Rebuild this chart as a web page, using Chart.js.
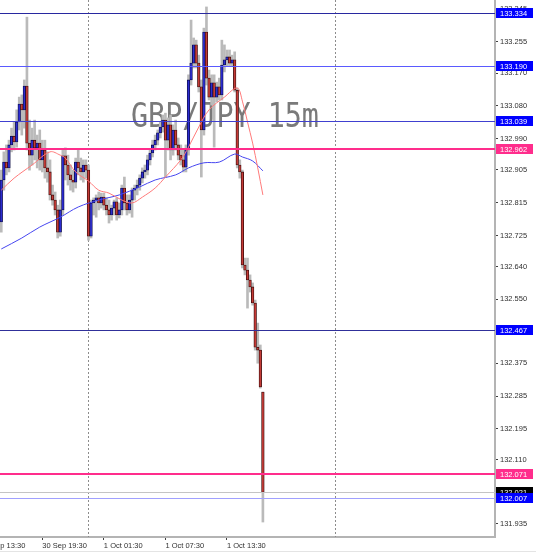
<!DOCTYPE html>
<html>
<head>
<meta charset="utf-8">
<script src="https://cdn.jsdelivr.net/npm/chart.js@4.4.1/dist/chart.umd.min.js"></script>
<style>
  html, body { margin: 0; padding: 0; background: #ffffff; }
  #wrap { width: 536px; height: 552px; }
</style>
</head>
<body>
<div id="wrap"><canvas id="c" width="536" height="552"></canvas></div>
<script>
// GBP/JPY 15m, values

const symbolText = 'GBP/JPY 15m'
const firstCandle = '30 Sep 15:30'

const opens = [
  132.762, 132.877, 132.926, 132.910, 132.973, 132.997, 132.981, 133.036, 133.085, 133.069,
  133.134, 132.978, 132.945, 132.986, 132.965, 132.978, 132.932, 132.959, 132.910, 132.899,
  132.836, 132.822, 132.795, 132.734, 132.795, 132.943, 132.918, 132.891, 132.877, 132.871,
  132.926, 132.910, 132.899, 132.918, 132.904, 132.723, 132.814, 132.822, 132.828, 132.814,
  132.830, 132.808, 132.795, 132.781, 132.800, 132.817, 132.781, 132.795, 132.855, 132.814,
  132.795, 132.822, 132.849, 132.855, 132.863, 132.882, 132.899, 132.904, 132.932, 132.951,
  132.973, 132.986, 133.006, 133.022, 133.041, 132.986, 133.028, 132.959, 133.014, 132.973,
  132.945, 132.932, 132.912, 132.959, 133.151, 133.197, 133.247, 133.197, 133.132, 133.014,
  133.282, 133.156, 133.104, 133.143, 133.104, 133.132, 133.110, 133.192, 133.206, 133.214,
  133.197, 133.206, 133.123, 132.918, 132.899, 132.644, 132.630, 132.603, 132.584, 132.540,
  132.419, 132.411, 132.296
]
const highs = [
  132.904, 132.954, 132.973, 132.986, 133.019, 133.036, 133.069, 133.104, 133.110, 133.151,
  133.323, 133.041, 133.019, 133.041, 133.000, 133.014, 132.986, 132.986, 132.954, 132.932,
  132.863, 132.844, 132.808, 132.822, 132.959, 132.965, 132.945, 132.918, 132.904, 132.937,
  132.959, 132.937, 132.932, 132.932, 132.918, 132.822, 132.828, 132.836, 132.844, 132.841,
  132.841, 132.828, 132.822, 132.808, 132.822, 132.828, 132.814, 132.863, 132.885, 132.836,
  132.836, 132.855, 132.863, 132.877, 132.891, 132.910, 132.918, 132.945, 132.959, 132.986,
  133.000, 133.014, 133.036, 133.055, 133.060, 133.047, 133.055, 133.028, 133.041, 132.992,
  132.973, 132.959, 132.973, 133.165, 133.315, 133.266, 133.260, 133.219, 133.151, 133.293,
  133.351, 133.178, 133.165, 133.165, 133.145, 133.156, 133.260, 133.247, 133.233, 133.233,
  133.219, 133.228, 133.129, 132.932, 132.904, 132.663, 132.663, 132.617, 132.595, 132.548,
  132.485, 132.425, 132.296
]
const lows = [
  132.734, 132.849, 132.891, 132.899, 132.954, 132.959, 132.967, 133.014, 133.000, 133.019,
  132.959, 132.904, 132.918, 132.932, 132.910, 132.904, 132.899, 132.882, 132.871, 132.822,
  132.808, 132.781, 132.718, 132.723, 132.781, 132.877, 132.863, 132.849, 132.844, 132.855,
  132.891, 132.877, 132.871, 132.882, 132.712, 132.718, 132.781, 132.775, 132.795, 132.800,
  132.795, 132.781, 132.759, 132.767, 132.781, 132.767, 132.773, 132.781, 132.795, 132.781,
  132.786, 132.775, 132.822, 132.836, 132.849, 132.869, 132.882, 132.891, 132.918, 132.940,
  132.959, 132.973, 132.992, 133.008, 132.885, 132.959, 132.932, 132.945, 132.959, 132.932,
  132.918, 132.899, 132.899, 132.945, 133.137, 133.184, 133.184, 133.118, 132.885, 133.000,
  133.137, 133.096, 133.082, 132.967, 133.091, 133.096, 133.096, 133.173, 133.189, 133.189,
  133.189, 133.118, 132.910, 132.882, 132.636, 132.617, 132.526, 132.570, 132.534, 132.411,
  132.375, 132.307, 131.940
]
const closes = [
  132.877, 132.926, 132.910, 132.973, 132.997, 132.981, 133.036, 133.085, 133.069, 133.134,
  132.978, 132.945, 132.986, 132.965, 132.978, 132.932, 132.959, 132.910, 132.899, 132.836,
  132.822, 132.795, 132.734, 132.795, 132.943, 132.918, 132.891, 132.877, 132.871, 132.926,
  132.910, 132.899, 132.918, 132.904, 132.723, 132.814, 132.822, 132.828, 132.814, 132.830,
  132.808, 132.795, 132.781, 132.800, 132.817, 132.781, 132.795, 132.855, 132.814, 132.795,
  132.822, 132.849, 132.855, 132.863, 132.882, 132.899, 132.904, 132.932, 132.951, 132.973,
  132.986, 133.006, 133.022, 133.041, 132.986, 133.028, 132.959, 133.014, 132.973, 132.945,
  132.932, 132.912, 132.959, 133.151, 133.197, 133.247, 133.197, 133.132, 133.014, 133.282,
  133.156, 133.104, 133.143, 133.104, 133.132, 133.110, 133.192, 133.206, 133.214, 133.197,
  133.206, 133.123, 132.918, 132.899, 132.644, 132.630, 132.603, 132.584, 132.540, 132.419,
  132.411, 132.310, 132.022
]

// moving averages: [candle number, price]
const fastMA = [
  [0, 132.849], [5, 132.882], [12, 132.918], [19, 132.954], [23, 132.945], [25, 132.937],
  [29, 132.899], [34, 132.874], [38, 132.849], [42, 132.841], [47, 132.822], [51, 132.814],
  [55, 132.830], [60, 132.855], [64, 132.885], [70, 132.932], [73, 132.967], [77, 133.022],
  [81, 133.069], [87, 133.104], [92, 133.129], [94, 133.093], [96, 133.036], [98, 132.978],
  [100, 132.910], [102, 132.836]
]
const slowMA = [
  [0, 132.688], [8, 132.718], [15, 132.748], [23, 132.775], [30, 132.803], [38, 132.822],
  [46, 132.836], [54, 132.858], [60, 132.877], [68, 132.891], [73, 132.910], [79, 132.924],
  [85, 132.926], [91, 132.948], [94, 132.940], [98, 132.929], [102, 132.902]
]

// horizontal price lines and their price tags
const levels = [133.334, 133.190, 133.039, 132.962, 132.467, 132.071, 132.021, 132.007]
const levelColors = ['#2828a0', '#5a5aff', '#4040d0', '#ff2d8c', '#30309a', '#ff2d8c', '#c4c4c4', '#a0a0ff']
const levelWidths = [1, 1, 1, 2, 1, 2, 1, 1]
const tagColors = ['#0000ff', '#0000ff', '#0000ff', '#ff2d8c', '#0000ff', '#ff2d8c', '#000000', '#0000ff']

const yTicks = [133.345, 133.255, 133.170, 133.080, 132.990, 132.905, 132.815, 132.725, 132.640,
  132.550, 132.460, 132.375, 132.285, 132.195, 132.110, 132.020, 131.935]
const tickLabels = ['30 Sep 13:30', '30 Sep 19:30', '1 Oct 01:30', '1 Oct 07:30', '1 Oct 13:30']
const daySeparators = ['1 Oct 00:00', '2 Oct 00:00']

// 15 minute slots along the time axis
const MONTHS = ['Jan', 'Feb', 'Mar', 'Apr', 'May', 'Jun', 'Jul', 'Aug', 'Sep', 'Oct', 'Nov', 'Dec']
const pad = n => String(n).padStart(2, '0')
const slotStart = Date.UTC(2019, 8, 30, 13, 30)
const categories = []
for (let k = 0; k < 201; k++) {
  const d = new Date(slotStart + k * 15 * 60000)
  categories.push(d.getUTCDate() + ' ' + MONTHS[d.getUTCMonth()] + ' ' + pad(d.getUTCHours()) + ':' + pad(d.getUTCMinutes()))
}
const c0 = categories.indexOf(firstCandle)
const timeOf = i => categories[c0 + i]

const TICK_FONT = { family: 'Liberation Sans', size: 7.5 }

const bull = opens.map((o, i) => closes[i] >= o)
const wickData = lows.map((l, i) => ({ x: timeOf(i), y: [l, highs[i]] }))
const bodyData = opens.map((o, i) => ({ x: timeOf(i), y: [o, closes[i]] }))

// no extra room for half tick labels: plot runs to the canvas edges
const noPad = s => { s.paddingTop = 0; s.paddingBottom = 0; s.paddingLeft = 0; s.paddingRight = 0 }

const overlay = {
  id: 'overlay',
  beforeDatasetsDraw(chart) {
    const { ctx, chartArea: a, scales: { x } } = chart
    ctx.save()
    // day separators
    ctx.strokeStyle = '#8c8c8c'
    ctx.lineWidth = 1
    ctx.setLineDash([2, 2])
    daySeparators.forEach(lbl => {
      const px = Math.round(x.getPixelForValue(categories.indexOf(lbl))) + 0.5
      ctx.beginPath(); ctx.moveTo(px, a.top); ctx.lineTo(px, a.bottom); ctx.stroke()
    })
    ctx.setLineDash([])
    // symbol watermark
    ctx.fillStyle = '#7a7a7a'
    ctx.font = '33px "DejaVu Sans Mono"'
    ctx.textBaseline = 'alphabetic'
    ctx.textAlign = 'left'
    ctx.translate(131, 127)
    ctx.scale(0.86, 1)
    ctx.fillText(symbolText, 0, 0)
    ctx.restore()
  },
  afterDatasetsDraw(chart) {
    const { ctx, chartArea: a, scales: { y } } = chart
    ctx.save()
    levels.forEach((v, i) => {
      const w = levelWidths[i]
      const py = Math.round(y.getPixelForValue(v)) + (w % 2 ? 0.5 : 0)
      ctx.strokeStyle = levelColors[i]
      ctx.lineWidth = w
      ctx.beginPath(); ctx.moveTo(a.left, py); ctx.lineTo(a.right, py); ctx.stroke()
    })
    ctx.restore()
  },
  afterDraw(chart) {
    const { ctx, chartArea: a, scales: { x, y } } = chart
    ctx.save()
    ctx.font = TICK_FONT.size + 'px "' + TICK_FONT.family + '"'
    // tick label that starts left of the plot
    ctx.fillStyle = '#303030'
    ctx.textAlign = 'left'
    ctx.textBaseline = 'top'
    tickLabels.forEach(lbl => {
      const idx = categories.indexOf(lbl)
      if (idx < x.min) ctx.fillText(lbl, x.getPixelForValue(idx), a.bottom + 5)
    })
    // price tags on the right scale
    ctx.textBaseline = 'middle'
    levels.forEach((v, i) => {
      const py = y.getPixelForValue(v)
      ctx.fillStyle = tagColors[i]
      ctx.fillRect(a.right + 1, Math.round(py) - 5, 37, 10)
      ctx.fillStyle = '#ffffff'
      ctx.fillText(v.toFixed(3), a.right + 5, Math.round(py) + 0.5)
    })
    ctx.fillStyle = '#e4e4e4'
    ctx.fillRect(0, chart.height - 1, chart.width, 1)
    ctx.restore()
  }
}

new Chart(document.getElementById('c'), {
  type: 'bar',
  data: {
    labels: categories,
    datasets: [
      {
        type: 'line', label: 'MA fast', order: 0,
        data: fastMA.map(([i, v]) => ({ x: timeOf(i), y: v })),
        borderColor: '#ff7a7a', borderWidth: 1, pointRadius: 0, tension: 0.35, fill: false
      },
      {
        type: 'line', label: 'MA slow', order: 0,
        data: slowMA.map(([i, v]) => ({ x: timeOf(i), y: v })),
        borderColor: '#4646f0', borderWidth: 1, pointRadius: 0, tension: 0.35, fill: false
      },
      {
        label: 'body', order: 1, grouped: false,
        data: bodyData,
        barThickness: 2.6,
        backgroundColor: bull.map(b => b ? '#2c2cd0' : '#c43a36'),
        borderColor: bull.map(b => b ? '#0c0c4c' : '#3e0c0c'),
        borderWidth: 0.8, borderSkipped: false
      },
      {
        label: 'wick', order: 2, grouped: false,
        data: wickData,
        barThickness: 2,
        backgroundColor: '#bababa', borderWidth: 0
      }
    ]
  },
  options: {
    responsive: false,
    animation: false,
    events: [],
    layout: { padding: 0 },
    plugins: { legend: { display: false }, tooltip: { enabled: false } },
    scales: {
      x: {
        type: 'category',
        min: firstCandle,
        max: categories[categories.length - 1],
        offset: true,
        grid: { display: true, drawOnChartArea: false, offset: false, tickLength: 3, color: '#404040' },
        border: { display: true, color: '#b4b4b4', width: 2 },
        ticks: { autoSkip: false, maxRotation: 0, align: 'start', padding: 1, color: '#303030', font: TICK_FONT },
        afterBuildTicks: s => {
          s.ticks = tickLabels.map(l => categories.indexOf(l)).filter(v => v >= s.min).map(v => ({ value: v }))
        },
        afterFit: s => { s.height = 15; noPad(s) }
      },
      y: {
        type: 'linear',
        position: 'right',
        min: 131.899,
        max: 133.370,
        grid: { display: true, drawOnChartArea: false, tickLength: 3, color: '#404040' },
        border: { display: true, color: '#b4b4b4', width: 2 },
        ticks: { padding: 2, color: '#303030', font: TICK_FONT, callback: v => v.toFixed(3) },
        afterBuildTicks: s => { s.ticks = yTicks.map(v => ({ value: v })) },
        afterFit: s => { s.width = 41; noPad(s) }
      }
    }
  },
  plugins: [overlay]
})
</script>
</body>
</html>
